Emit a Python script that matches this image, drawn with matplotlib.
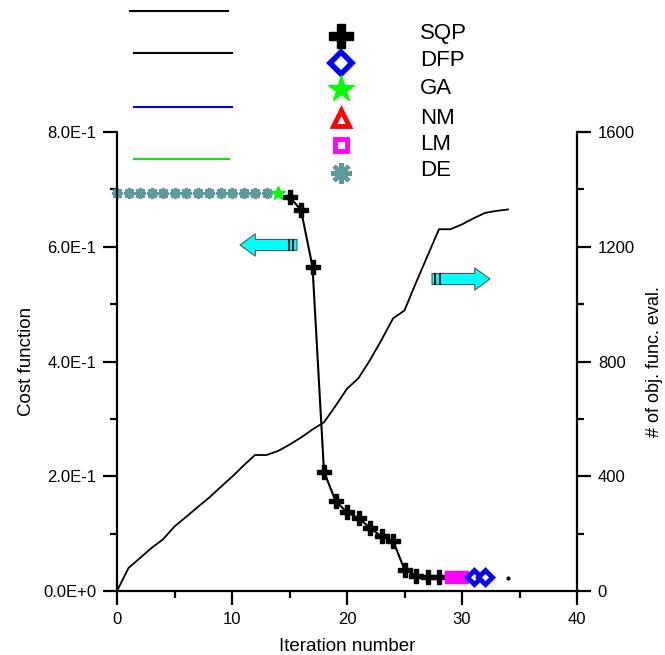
import matplotlib
matplotlib.use('Agg')
import matplotlib.pyplot as plt
from matplotlib.lines import Line2D
import numpy as np

plt.rcParams['font.family'] = ['Liberation Sans', 'DejaVu Sans']

# Cost function per method
de_iter = list(range(0, 14))
de_cost = [0.694] * 14
ga_iter = [14]
ga_cost = [0.694]
sqp_iter = [15, 16, 17, 18, 19, 20, 21, 22, 23, 24, 25, 26, 27, 28]
sqp_cost = [0.687, 0.664, 0.565, 0.208, 0.157, 0.137, 0.127, 0.110,
            0.095, 0.088, 0.037, 0.027, 0.024, 0.024]
lm_iter = [29, 30]
lm_cost = [0.025, 0.025]
dfp_iter = [31, 32]
dfp_cost = [0.024, 0.024]
nm_iter = [34]
nm_cost = [0.022]

# Number of objective function evaluations
eval_iter = list(range(0, 35))
eval_count = [0, 80, 115, 150, 180, 225, 258, 292, 325, 362, 398, 437, 474,
              474, 488, 510, 535, 563, 588, 645, 705, 742, 805, 875, 950,
              978, 1075, 1168, 1261, 1261, 1278, 1299, 1318, 1325, 1330]

W, H = 665, 655
fig = plt.figure(figsize=(W / 100, H / 100), dpi=100)
ax = fig.add_axes([117 / W, 64 / H, 460 / W, 459 / H])
ax2 = ax.twinx()


def fx(px):
    return px / W


def fy(py):
    return 1 - py / H


# evaluation curve (right axis)
ax2.plot(eval_iter, eval_count, color='black', lw=1.3)
ax2.set_ylim(0, 1600)

# cost curves (left axis)
ax.set_zorder(ax2.get_zorder() + 1)
ax.patch.set_visible(False)
ax.plot(de_iter, de_cost, ls='none', marker=(8, 2, 0), ms=8, mew=2,
        color='#5f9a9a', clip_on=False)
ax.plot(ga_iter, ga_cost, ls='none', marker='*', ms=10, color='#00ff00',
        clip_on=False)
ax.plot(sqp_iter, sqp_cost, color='black', lw=1.5, marker='P', ms=9.5,
        clip_on=False)
ax.plot(lm_iter, lm_cost, ls='none', marker='s', ms=9, color='magenta')
ax.plot(dfp_iter, dfp_cost, ls='none', marker='D', ms=7, mfc='white',
        mec='blue', mew=3.5)
ax.plot(nm_iter, nm_cost, ls='none', marker='o', ms=2, color='black')

ax.set_xlim(0, 40)
ax.set_ylim(0, 0.8)
ax.set_xticks([0, 10, 20, 30, 40])
ax.set_xticks([5, 15, 25, 35], minor=True)
ax.set_yticks([0, 0.2, 0.4, 0.6, 0.8])
ax.set_yticks([0.1, 0.3, 0.5, 0.7], minor=True)
ax.set_yticklabels(['0.0E+0', '2.0E-1', '4.0E-1', '6.0E-1', '8.0E-1'])
ax2.set_yticks([0, 400, 800, 1200, 1600])
ax2.set_yticks([200, 600, 1000, 1400], minor=True)

for a in (ax, ax2):
    a.spines['top'].set_visible(False)
    for s in a.spines.values():
        s.set_linewidth(1.6)
    a.tick_params(which='major', direction='out', length=10, width=1.6,
                  labelsize=12, pad=5)
    a.tick_params(which='minor', direction='out', length=5, width=1.6)
ax.spines['right'].set_visible(False)
ax2.spines['left'].set_visible(False)
ax2.spines['bottom'].set_visible(False)

ax.set_xlabel('Iteration number', fontsize=13.5, labelpad=8)
ax.set_ylabel('Cost function', fontsize=13.5, labelpad=6)
ax2.set_ylabel('# of obj. func. eval.', fontsize=13, labelpad=8)

# direction arrows
arrow_style = 'simple,head_width=1.6,head_length=1.1,tail_width=0.8'
ax.annotate('', xy=(240, H - 245), xytext=(297, H - 245), xycoords='figure pixels',
            textcoords='figure pixels',
            arrowprops=dict(arrowstyle=arrow_style, fc='#00ffff', ec='#555555',
                            lw=0.8, mutation_scale=10, shrinkA=0, shrinkB=0))
ax.annotate('', xy=(490, H - 279), xytext=(432, H - 279), xycoords='figure pixels',
            textcoords='figure pixels',
            arrowprops=dict(arrowstyle=arrow_style, fc='#00ffff', ec='#555555',
                            lw=0.8, mutation_scale=10, shrinkA=0, shrinkB=0))
for x0 in (289, 293):
    fig.add_artist(Line2D([fx(x0), fx(x0)], [fy(240), fy(250)], color='#222222', lw=1.5))
for x0 in (435, 440):
    fig.add_artist(Line2D([fx(x0), fx(x0)], [fy(274), fy(284)], color='#222222', lw=1.5))

# line keys at top left
line_keys = [(11, 130, 228, 'black'), (53, 134, 232, 'black'),
             (107, 134, 232, 'blue'), (159, 134, 229, '#00ee00')]
for yk, x0, x1, c in line_keys:
    fig.add_artist(Line2D([fx(x0), fx(x1)], [fy(yk), fy(yk)], color=c, lw=1.5))

# marker legend
legend_names = ['SQP', 'DFP', 'GA', 'NM', 'LM', 'DE']
legend_style = [dict(marker='P', ms=17, color='black'),
                dict(marker='D', ms=11, mfc='white', mec='blue', mew=4),
                dict(marker='*', ms=20, color='#00ff00'),
                dict(marker='^', ms=12, mfc='white', mec='red', mew=3.5),
                dict(marker='s', ms=9, mfc='white', mec='magenta', mew=3.5),
                dict(marker=(8, 2, 0), ms=15, mew=3, color='#5f9a9a')]
marker_y = [36, 63, 89, 118, 145, 173]
label_y = [34, 60, 88, 118, 145, 170]
for name, st, my, ly in zip(legend_names, legend_style, marker_y, label_y):
    fig.add_artist(Line2D([fx(341)], [fy(my)], ls='none', **st))
    fig.text(fx(420), fy(ly), name, fontsize=16, va='center', ha='left')

fig.savefig('out.png', dpi=100)
